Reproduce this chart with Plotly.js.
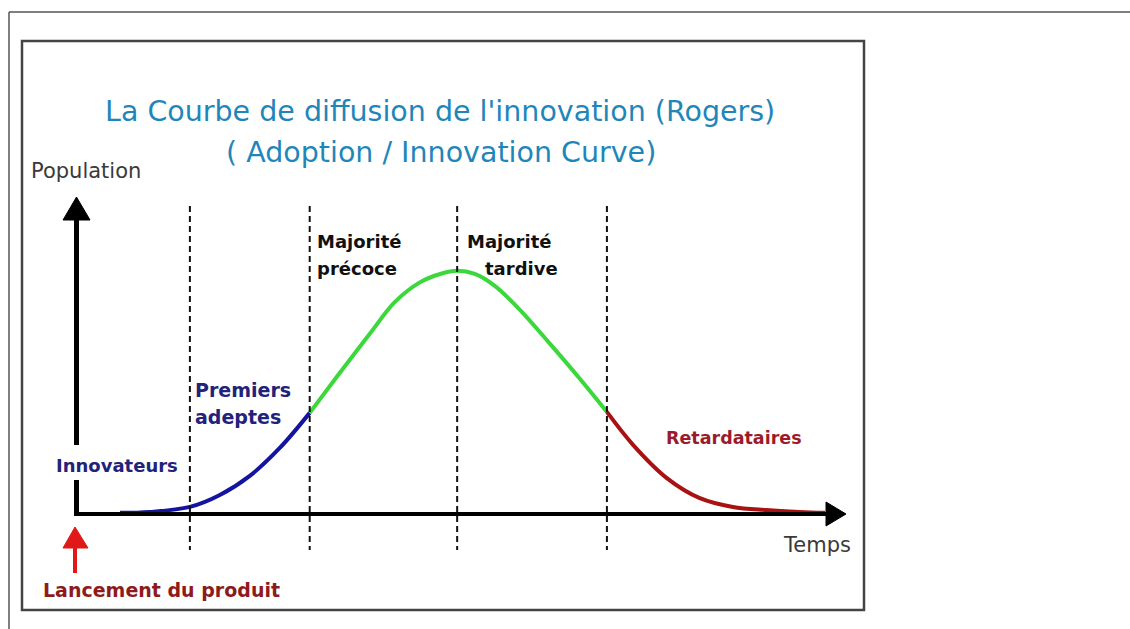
<!DOCTYPE html>
<html>
<head>
<meta charset="utf-8">
<script src="https://cdn.plot.ly/plotly-3.0.1.min.js"></script>
<style>html,body{margin:0;padding:0;background:#fff;}#chart{width:1130px;height:629px;}</style>
</head>
<body>
<div id="chart"></div>
<script>
// ---- data (time in arbitrary units 0..100, population in arbitrary units) ----
const time = [5.6, 9.5, 14.7, 18.6, 22.5, 26.4, 30.3, 34.2, 38.2, 41.4, 44.7, 47.3, 49.5, 51.8, 54.4, 57.7, 61.6, 65.5, 69.0, 72.4, 76.8, 81.1, 85.4, 89.8, 94.1, 97.4];
const population = [0.2, 0.5, 2.1, 5.9, 12.0, 20.9, 32.1, 44.8, 57.6, 67.5, 73.8, 76.4, 77.4, 76.4, 72.6, 64.9, 54.1, 42.9, 32.4, 21.9, 11.3, 4.9, 2.1, 1.1, 0.5, 0.2];
const boundaries = [14.7, 30.3, 49.5, 69.0];
const segmentNames = ["Premiers adeptes", "Majorité", "Retardataires"];
const titleLines = ["La Courbe de diffusion de l'innovation (Rogers)", "( Adoption / Innovation Curve)"];
const axisLabels = {y: "Population", x: "Temps"};

// ---- layout helpers ----
const W = 1130, H = 629;
const X0 = 77, XS = 7.68;     // pixel of time 0, px per unit
const Y0 = 513.5, YS = 3.135; // pixel of population 0, px per unit
const px = v => v / W;
const py = v => 1 - v / H;

function seg(lo, hi) {
  const xs = [], ys = [];
  time.forEach((t, i) => { if (t >= lo && t <= hi) { xs.push(t); ys.push(population[i]); } });
  return {xs, ys};
}
const s1 = seg(-1e9, boundaries[1]);
const s2 = seg(boundaries[1], boundaries[3]);
const s3 = seg(boundaries[3], 1e9);
const colors = ["#14149e", "#3ad83a", "#a81212"];
const traces = [s1, s2, s3].map((s, i) => ({
  x: s.xs, y: s.ys, type: "scatter", mode: "lines", name: segmentNames[i],
  line: {color: colors[i], width: 4, shape: "spline", smoothing: 1},
  hoverinfo: "skip"
}));

const shapes = [];
// outer frame
shapes.push({type: "line", xref: "paper", yref: "paper", x0: px(9), y0: py(12), x1: px(1130), y1: py(12), line: {color: "#555", width: 1.5}});
shapes.push({type: "line", xref: "paper", yref: "paper", x0: px(9), y0: py(12), x1: px(9), y1: py(629), line: {color: "#555", width: 1.5}});
// inner box
shapes.push({type: "rect", xref: "paper", yref: "paper", x0: px(22), y0: py(41), x1: px(864), y1: py(610), line: {color: "#444", width: 2.5}});
// dashed boundaries
boundaries.forEach(b => shapes.push({type: "line", xref: "x", yref: "paper", x0: b, x1: b, y0: py(206), y1: py(550), line: {color: "#111", width: 2, dash: "6px,4px"}}));
// y axis shaft (gap at Innovateurs)
shapes.push({type: "line", xref: "paper", yref: "paper", x0: px(76.5), y0: py(216), x1: px(76.5), y1: py(445), line: {color: "#000", width: 5}});
shapes.push({type: "line", xref: "paper", yref: "paper", x0: px(76.5), y0: py(480), x1: px(76.5), y1: py(516), line: {color: "#000", width: 5}});
// y arrowhead
shapes.push({type: "path", xref: "paper", yref: "paper", path: `M ${px(63)} ${py(220)} L ${px(76.5)} ${py(197)} L ${px(90)} ${py(220)} Z`, fillcolor: "#000", line: {color: "#000", width: 1}});
// x axis
shapes.push({type: "line", xref: "paper", yref: "paper", x0: px(74), y0: py(514), x1: px(830), y1: py(514), line: {color: "#000", width: 4}});
shapes.push({type: "path", xref: "paper", yref: "paper", path: `M ${px(826)} ${py(502)} L ${px(846)} ${py(514)} L ${px(826)} ${py(526)} Z`, fillcolor: "#000", line: {color: "#000", width: 1}});
// red launch arrow
shapes.push({type: "line", xref: "paper", yref: "paper", x0: px(75), y0: py(545), x1: px(75), y1: py(573), line: {color: "#e01818", width: 4}});
shapes.push({type: "path", xref: "paper", yref: "paper", path: `M ${px(63)} ${py(548)} L ${px(75)} ${py(527)} L ${px(88)} ${py(548)} Z`, fillcolor: "#e01818", line: {color: "#e01818", width: 1}});

const F = "DejaVu Sans, Verdana, sans-serif";
function ann(text, x, y, size, color, bold, anchor) {
  return {text: bold ? `<b>${text}</b>` : text, xref: "paper", yref: "paper", x: px(x), y: py(y),
    xanchor: anchor || "left", yanchor: "middle", showarrow: false,
    font: {family: F, size: size, color: color}};
}
const annotations = [
  ann(titleLines[0], 440, 112, 28.5, "#1f86ba", false, "center"),
  ann(titleLines[1], 441, 152, 28.5, "#1f86ba", false, "center"),
  ann(axisLabels.y, 29, 171, 21, "#3a3a3a", false),
  ann(axisLabels.x, 781, 545, 21, "#3a3a3a", false),
  ann("Premiers", 193, 390, 19, "#22227a", true),
  ann("adeptes", 193, 417, 19, "#22227a", true),
  ann("Innovateurs", 54, 465, 18, "#22227a", true),
  ann("Majorité", 315, 242, 18, "#111", true),
  ann("précoce", 315, 268, 18, "#111", true),
  ann("Majorité", 465, 242, 18, "#111", true),
  ann("tardive", 483, 268, 18, "#111", true),
  ann("Retardataires", 664, 438, 17.5, "#9b1b2c", true),
  ann("Lancement du produit", 41, 590, 19, "#8e1b1b", true)
];

const layout = {
  width: W, height: H, margin: {l: 0, r: 0, t: 0, b: 0},
  paper_bgcolor: "#fff", plot_bgcolor: "rgba(0,0,0,0)", showlegend: false,
  xaxis: {range: [-X0 / XS, (W - X0) / XS], visible: false, fixedrange: true},
  yaxis: {range: [(Y0 - H) / YS, Y0 / YS], visible: false, fixedrange: true},
  shapes: shapes, annotations: annotations
};
Plotly.newPlot("chart", traces, layout, {displayModeBar: false, staticPlot: true});
</script>
</body>
</html>
